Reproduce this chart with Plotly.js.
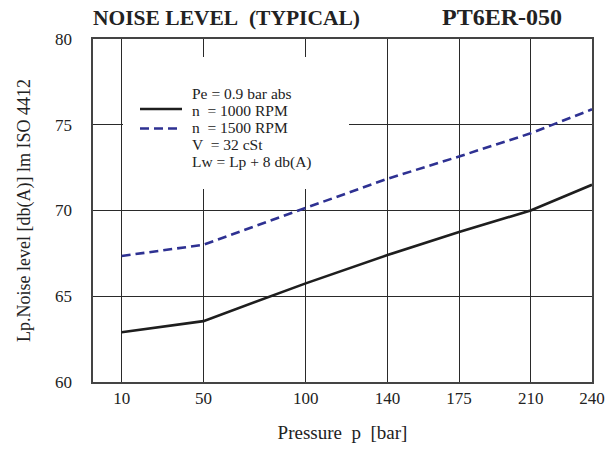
<!DOCTYPE html>
<html>
<head>
<meta charset="utf-8">
<script src="https://cdn.plot.ly/plotly-3.0.1.min.js"></script>
<style>html,body{margin:0;padding:0;background:#fff;}#chart{width:616px;height:452px;}</style>
</head>
<body>
<div id="chart"></div>
<script>
// Data
const pressure = [10, 50, 100, 140, 175, 210, 240];
const noise1000 = [62.9, 63.55, 65.75, 67.4, 68.75, 70.0, 71.5];
const noise1500 = [67.35, 68.0, 70.15, 71.85, 73.15, 74.5, 75.9];
const xTicks = [10, 50, 100, 140, 175, 210, 240];
const yTicks = [60, 65, 70, 75, 80];
const legendLines = ["Pe = 0.9 bar abs", "n  = 1000 RPM", "n  = 1500 RPM", "V  = 32 cSt", "Lw = Lp + 8 db(A)"];
const seriesNames = ["n = 1000 RPM", "n = 1500 RPM"];

const FONT = "Liberation Serif";
const L = 93, R = 592, T = 39, B = 382;
const W = 616, H = 452;
const px = v => (v - L) / (R - L);
const py = v => (B - v) / (B - T);

const traces = [
  {x: pressure, y: noise1000, name: seriesNames[0], type: 'scatter', mode: 'lines',
   line: {color: '#1e1e1e', width: 2.6}, showlegend: false, hoverinfo: 'x+y'},
  {x: pressure, y: noise1500, name: seriesNames[1], type: 'scatter', mode: 'lines',
   line: {color: '#2e3192', width: 2.6, dash: '9px,5px'}, showlegend: false, hoverinfo: 'x+y'}
];

const legendY = [93, 110.2, 127.5, 144.8, 162];
const annotations = legendLines.map((t, i) => ({
  text: t.replace(/  /g, ' \u00a0'), xref: 'paper', yref: 'paper', x: px(191), y: py(legendY[i]),
  xanchor: 'left', yanchor: 'middle', showarrow: false, borderpad: 0,
  font: {family: FONT, size: 15.5, color: '#222'}
}));
annotations.push({
  text: 'PT6ER-050', xref: 'paper', yref: 'paper', x: px(440), y: py(17),
  xanchor: 'left', yanchor: 'middle', showarrow: false,
  font: {family: FONT, size: 24, color: '#222', weight: 'bold'}
});

const shapes = [
  {type: 'rect', xref: 'paper', yref: 'paper', x0: px(123), x1: px(349), y0: py(189), y1: py(57),
   fillcolor: '#ffffff', line: {width: 0}, layer: 'above'},
  {type: 'line', xref: 'paper', yref: 'paper', x0: px(140), x1: px(182), y0: py(109), y1: py(109),
   line: {color: '#1e1e1e', width: 2.6}, layer: 'above'},
  {type: 'line', xref: 'paper', yref: 'paper', x0: px(140), x1: px(182), y0: py(128.5), y1: py(128.5),
   line: {color: '#2e3192', width: 2.6, dash: '9px,5px'}, layer: 'above'}
];

const layout = {
  width: W, height: H,
  margin: {l: L, r: W - R, t: T, b: H - B, pad: 0},
  paper_bgcolor: '#fff', plot_bgcolor: '#fff',
  font: {family: FONT, size: 17, color: '#222'},
  title: {text: 'NOISE LEVEL\u00a0\u00a0(TYPICAL)', x: L / W, xanchor: 'left', xref: 'container',
          y: 1 - 17 / H, yanchor: 'middle', yref: 'container',
          font: {family: FONT, size: 21.5, color: '#222', weight: 'bold'}},
  xaxis: {
    range: [-4, 240], tickvals: xTicks, ticktext: xTicks.map(String),
    showgrid: true, gridcolor: '#2a2a2a', gridwidth: 1, zeroline: false,
    showline: true, mirror: true, linecolor: '#444', linewidth: 1.6,
    ticks: '', ticklabelstandoff: 0, automargin: false,
    tickfont: {family: FONT, size: 17, color: '#222'},
    title: {text: 'Pressure\u00a0\u00a0p\u00a0\u00a0[bar]', standoff: 18, font: {family: FONT, size: 19, color: '#222'}}
  },
  yaxis: {
    range: [60, 80], tickvals: yTicks, ticktext: yTicks.map(String),
    showgrid: true, gridcolor: '#2a2a2a', gridwidth: 1, zeroline: false,
    showline: true, mirror: true, linecolor: '#444', linewidth: 1.6,
    ticks: '', ticklabelstandoff: 16, automargin: false,
    tickfont: {family: FONT, size: 17, color: '#222'},
    title: {text: 'Lp.Noise level [db(A)] lm ISO 4412', standoff: 20, font: {family: FONT, size: 18, color: '#222'}}
  },
  annotations: annotations,
  shapes: shapes,
  showlegend: false
};

Plotly.newPlot('chart', traces, layout, {displayModeBar: false, staticPlot: true});
</script>
</body>
</html>
